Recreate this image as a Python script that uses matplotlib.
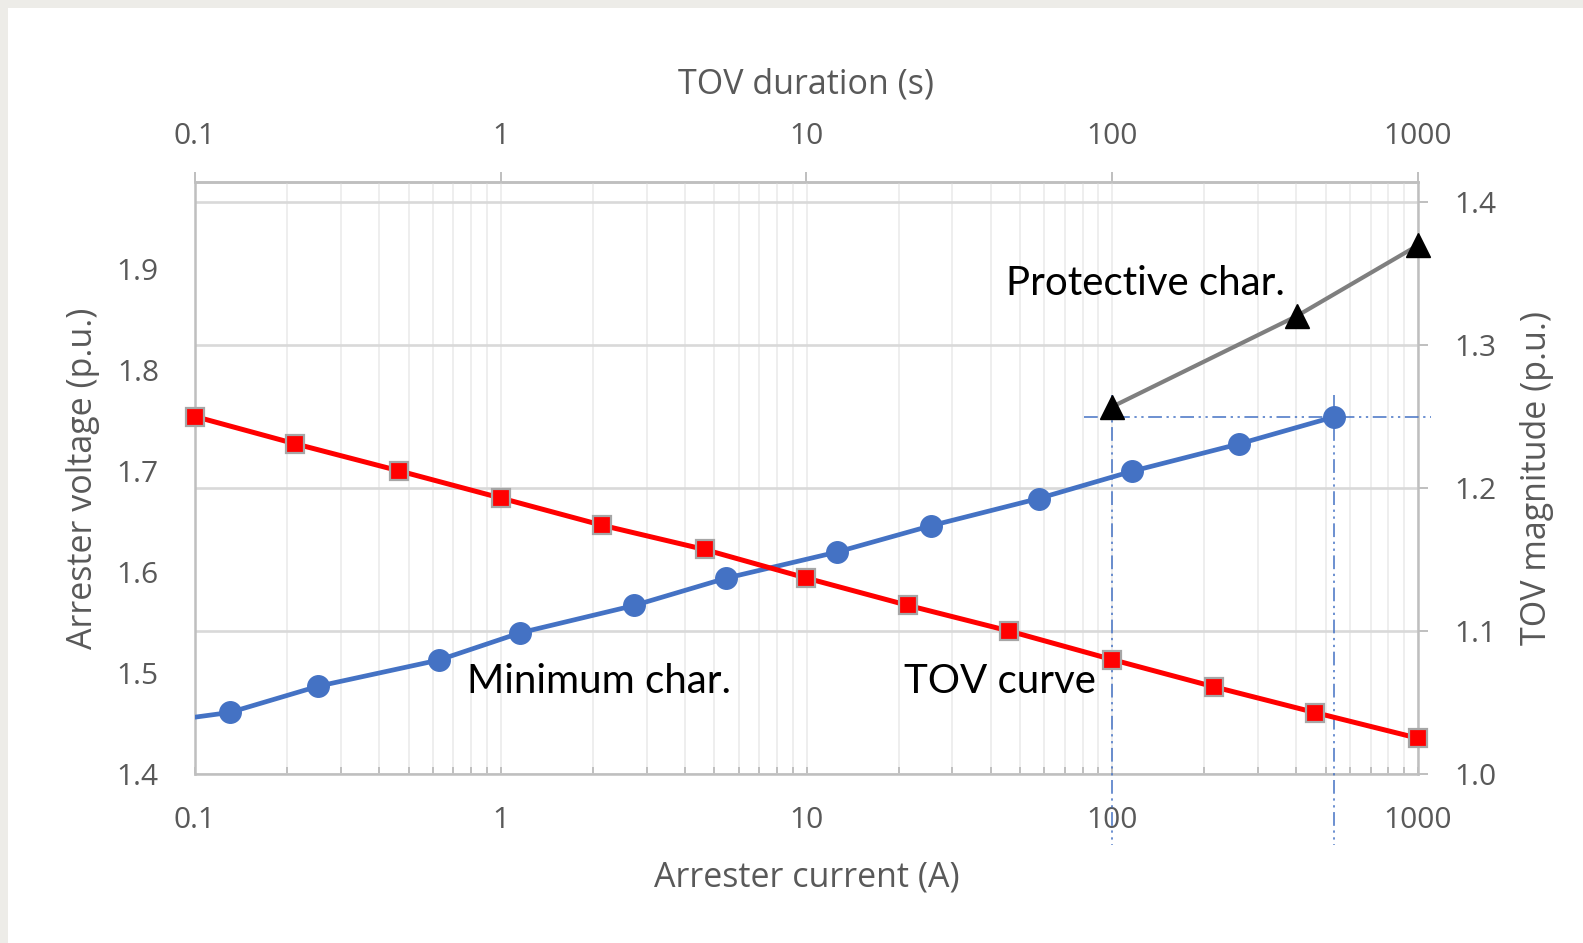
import numpy as np
import matplotlib.pyplot as plt
from matplotlib.patches import Rectangle
from matplotlib.ticker import FixedLocator, FixedFormatter, LogLocator, NullFormatter, NullLocator

plt.rcParams['font.family'] = ['Open Sans', 'DejaVu Sans']

# Minimum char. (arrester current A -> arrester voltage p.u.), first point is off the axis
min_current = [0.05, 0.13, 0.253, 0.629, 1.16, 2.73, 5.45, 12.6, 25.5, 57.4, 116, 259, 532]
min_voltage = [1.444, 1.461, 1.487, 1.513, 1.540, 1.567, 1.594, 1.620, 1.646, 1.673, 1.700, 1.727, 1.754]

# Protective char. (arrester current A -> arrester voltage p.u.)
prot_current = [100, 402, 1000]
prot_voltage = [1.764, 1.854, 1.924]

# TOV curve (TOV duration s -> TOV magnitude p.u.)
tov_duration = [0.1, 0.212, 0.465, 1.0, 2.14, 4.64, 10, 21.4, 46.0, 100, 215, 460, 1000]
tov_magnitude = [1.250, 1.231, 1.212, 1.193, 1.174, 1.157, 1.137, 1.118, 1.100, 1.080, 1.061, 1.043, 1.025]

x_ticks = [0.1, 1, 10, 100, 1000]
x_labels = ['0.1', '1', '10', '100', '1000']
volt_ticks = [1.4, 1.5, 1.6, 1.7, 1.8, 1.9]
mag_ticks = [1.0, 1.1, 1.2, 1.3, 1.4]

GREY_TXT = '#595959'
AXIS_C = '#bfbfbf'
BLUE = '#4472c4'

W, H = 1583, 943
fig = plt.figure(figsize=(W / 100, H / 100), dpi=100, facecolor='#edece8')
fig.patches.append(Rectangle((8 / W, 0), 1, 1 - 8 / H, transform=fig.transFigure,
                             facecolor='white', edgecolor='none', zorder=-10))

ax = fig.add_axes([195 / W, (H - 774) / H, (1418 - 195) / W, (774 - 182) / H])
ax_l = ax.twinx()
ax_red = ax.twinx()

ax.set_xscale('log')
ax.set_xlim(0.1, 1000)
ax.set_ylim(1.0, 1.414)
ax_l.set_ylim(1.4, 1.9867)
ax_red.set_ylim(1.0, 1.414)

# grid and right axis on the base axes
ax.set_axisbelow(True)
ax.grid(axis='y', color='#d9d9d9', lw=1.9)
ax.grid(axis='x', which='both', color='#eeeeee', lw=1.4)
for s in ax.spines.values():
    s.set_color(AXIS_C)
    s.set_linewidth(1.8)

ax.xaxis.set_major_locator(FixedLocator(x_ticks))
ax.xaxis.set_major_formatter(FixedFormatter(x_labels))
ax.xaxis.set_minor_locator(LogLocator(base=10, subs=np.arange(2, 10)))
ax.xaxis.set_minor_formatter(NullFormatter())
ax.tick_params(axis='x', which='both', direction='in', length=5, width=1.4, color=AXIS_C,
               labelcolor=GREY_TXT, labelsize=21.5, pad=23)

ax.yaxis.tick_right()
ax.yaxis.set_major_locator(FixedLocator(mag_ticks))
ax.set_yticklabels([f'{v:.1f}' for v in mag_ticks])
ax.tick_params(axis='y', direction='out', length=7, width=1.4, color=AXIS_C,
               labelcolor=GREY_TXT, labelsize=21.5, pad=19, labelright=True, labelleft=False)
ax.set_xlabel('Arrester current (A)', fontsize=24.5, color=GREY_TXT, va='center')
ax.xaxis.set_label_coords(0.5, -0.174)
ax.yaxis.set_label_position('right')
ax.set_ylabel('TOV magnitude (p.u.)', fontsize=24.5, color=GREY_TXT)
ax.yaxis.label.set_va('center')
ax.yaxis.set_label_coords(1.0973, 0.5)

secax = ax.secondary_xaxis('top')
secax.xaxis.set_major_locator(FixedLocator(x_ticks))
secax.xaxis.set_major_formatter(FixedFormatter(x_labels))
secax.xaxis.set_minor_locator(NullLocator())
secax.tick_params(direction='out', length=7, width=1.4, color=AXIS_C,
                  labelcolor=GREY_TXT, labelsize=21.5, pad=15)
secax.spines['top'].set_color(AXIS_C)
secax.spines['top'].set_linewidth(1.8)
secax.set_xlabel('TOV duration (s)', fontsize=24.5, color=GREY_TXT, va='center')
secax.xaxis.set_label_coords(0.5, 1.165, transform=ax.transAxes)

# left axis: arrester voltage
for a in (ax_l, ax_red):
    for s in a.spines.values():
        s.set_visible(False)
ax_l.yaxis.tick_left()
ax_l.yaxis.set_major_locator(FixedLocator(volt_ticks))
ax_l.set_yticklabels([f'{v:.1f}' for v in volt_ticks])
ax_l.tick_params(axis='y', length=0, labelcolor=GREY_TXT, labelsize=21.5, pad=26,
                 labelleft=True, labelright=False)
ax_l.yaxis.set_label_position('left')
ax_l.set_ylabel('Arrester voltage (p.u.)', fontsize=24.5, color=GREY_TXT)
ax_l.yaxis.label.set_va('center')
ax_l.yaxis.set_label_coords(-0.0916, 0.5)
ax_red.yaxis.set_visible(False)

# guide lines through the start of protective char. and end of minimum char.
dash = (0, (9, 3, 1.5, 3, 1.5, 3))
g_volt = min_voltage[-1]
ax_l.plot([81, 1100], [g_volt, g_volt], color=BLUE, lw=1.1, ls=dash, clip_on=False, zorder=2)
for gx in (prot_current[0], min_current[-1]):
    ax_l.plot([gx, gx], [1.776, 1.33], color=BLUE, lw=1.1, ls=dash, clip_on=False, zorder=2)

ax_l.plot(min_current, min_voltage, color=BLUE, lw=3.4, marker='o', ms=15.5, zorder=3)
ax_l.plot(prot_current, prot_voltage, color='#7f7f7f', lw=3.0, marker='^', ms=17.5,
          mfc='black', mec='black', clip_on=False, zorder=4)
ax_red.plot(tov_duration, tov_magnitude, color='#ff0000', lw=3.6, marker='s', ms=13.5,
            mfc='#ff0000', mec='#a6a6a6', mew=1.6, clip_on=False, zorder=3)

txt_kw = dict(transform=ax.transAxes, fontsize=29, family=['Lato', 'DejaVu Sans'],
              color='black', ha='left', va='center')
ax_red.text(0.663, 0.829, 'Protective char.', **txt_kw)
ax_red.text(0.2224, 0.157, 'Minimum char.', **txt_kw)
ax_red.text(0.5797, 0.157, 'TOV curve', **txt_kw)

fig.savefig('out.png', dpi=100, facecolor=fig.get_facecolor())
